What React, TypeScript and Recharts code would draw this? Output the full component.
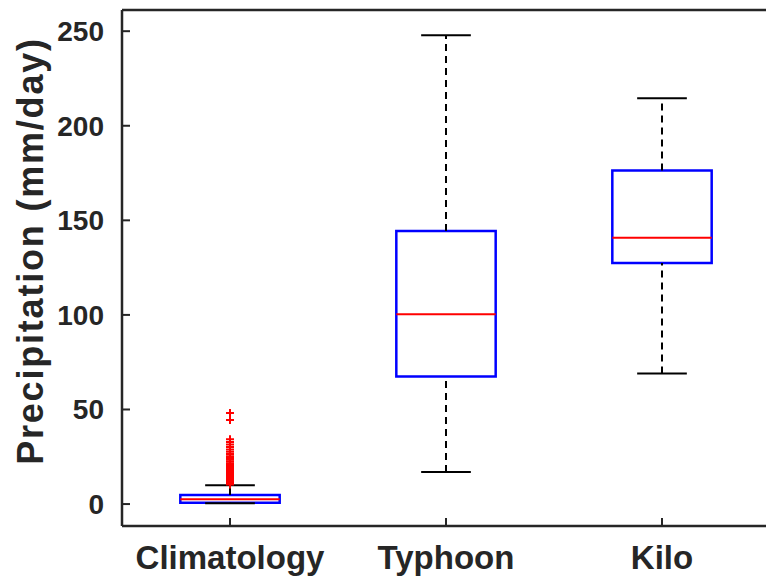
import React from "react";
import {
  ComposedChart,
  XAxis,
  YAxis,
  ReferenceArea,
  ReferenceLine,
  Scatter,
} from "recharts";

const categories = ["Climatology", "Typhoon", "Kilo"];
const lowerWhisker = [0.4, 17, 69];
const q1 = [0.7, 67.5, 127.5];
const median = [2.6, 100.3, 140.8];
const q3 = [4.8, 144.3, 176.3];
const upperWhisker = [10, 247.8, 214.5];
const climOutliers = [
  10.4, 10.8, 11.1, 11.5, 11.9, 12.2, 12.6, 13.0, 13.4, 13.9, 14.3, 14.8, 15.2,
  15.7, 16.3, 16.8, 17.4, 18.0, 18.7, 19.3, 20.1, 20.8, 21.6, 22.5, 23.4, 24.3,
  25.3, 26.4, 27.6, 28.9, 30.2, 31.5, 32.8, 34.2, 44.4, 48.1,
];
const yTicks = [0, 50, 100, 150, 200, 250];

const font = "'Liberation Sans', Arial, Helvetica, sans-serif";
const ink = "#262626";
const boxHalf = 0.23;
const capHalf = 0.115;

const outlierData = climOutliers.map((v) => ({ x: 1, y: v }));

const PlusShape = (props: any) => {
  const { cx, cy } = props;
  return (
    <path
      d={`M${cx - 4},${cy}H${cx + 4}M${cx},${cy - 4}V${cy + 4}`}
      stroke="#ff0000"
      strokeWidth={2}
      fill="none"
    />
  );
};

const YLabel = (props: any) => {
  const { viewBox } = props;
  const x = viewBox.x + 43;
  const y = viewBox.y + viewBox.height / 2 - 17;
  return (
    <text
      x={x}
      y={y}
      transform={`rotate(-90, ${x}, ${y})`}
      textAnchor="middle"
      fontFamily={font}
      fontWeight="bold"
      fontSize={36}
      letterSpacing={1.8}
      fill={ink}
    >
      Precipitation (mm/day)
    </text>
  );
};

export default function App() {
  return (
    <div
      style={{
        position: "absolute",
        left: 0,
        top: 0,
        width: 766,
        height: 576,
        overflow: "hidden",
        background: "#fff",
      }}
    >
      <ComposedChart
        width={790}
        height={576}
        margin={{ top: 0, right: 20, bottom: 0, left: 0 }}
      >
        <XAxis
          xAxisId="top"
          orientation="top"
          type="number"
          domain={[0.5, 3.5]}
          ticks={[1, 2, 3]}
          allowDataOverflow
          height={10}
          tickSize={-8}
          tickFormatter={() => ""}
          axisLine={{ stroke: ink, strokeWidth: 2.5 }}
          tickLine={{ stroke: ink, strokeWidth: 2 }}
        />
        <XAxis
          dataKey="x"
          type="number"
          domain={[0.5, 3.5]}
          ticks={[1, 2, 3]}
          interval={0}
          allowDataOverflow
          height={50}
          tickSize={-8}
          tickMargin={28}
          tickFormatter={(v: number) => categories[v - 1]}
          tick={{ fontFamily: font, fontWeight: "bold", fontSize: 33, fill: ink }}
          axisLine={{ stroke: ink, strokeWidth: 2.5 }}
          tickLine={{ stroke: ink, strokeWidth: 2 }}
        />
        <YAxis
          dataKey="y"
          type="number"
          domain={[-11.6, 261.2]}
          ticks={yTicks}
          interval={0}
          allowDataOverflow
          width={122}
          tickSize={-8}
          tickMargin={26}
          tick={{ fontFamily: font, fontWeight: "bold", fontSize: 28, fill: ink }}
          axisLine={{ stroke: ink, strokeWidth: 2.5 }}
          tickLine={{ stroke: ink, strokeWidth: 2 }}
          label={{ content: <YLabel /> }}
        />
        {categories.map((c, i) => {
          const x = i + 1;
          return (
            <React.Fragment key={c}>
              <ReferenceLine
                segment={[{ x, y: q3[i] }, { x, y: upperWhisker[i] }]}
                stroke="#000"
                strokeWidth={2}
                strokeDasharray="7 5"
              />
              <ReferenceLine
                segment={[{ x, y: lowerWhisker[i] }, { x, y: q1[i] }]}
                stroke="#000"
                strokeWidth={2}
                strokeDasharray="7 5"
              />
              <ReferenceLine
                segment={[
                  { x: x - capHalf, y: upperWhisker[i] },
                  { x: x + capHalf, y: upperWhisker[i] },
                ]}
                stroke="#000"
                strokeWidth={2}
              />
              <ReferenceLine
                segment={[
                  { x: x - capHalf, y: lowerWhisker[i] },
                  { x: x + capHalf, y: lowerWhisker[i] },
                ]}
                stroke="#000"
                strokeWidth={2}
              />
              <ReferenceArea
                x1={x - boxHalf}
                x2={x + boxHalf}
                y1={q1[i]}
                y2={q3[i]}
                stroke="#0000ff"
                strokeWidth={2.5}
                fill="#fff"
                fillOpacity={1}
              />
              <ReferenceLine
                segment={[
                  { x: x - boxHalf, y: median[i] },
                  { x: x + boxHalf, y: median[i] },
                ]}
                stroke="#ff0000"
                strokeWidth={2}
              />
            </React.Fragment>
          );
        })}
        <Scatter
          data={outlierData}
          dataKey="y"
          shape={<PlusShape />}
          isAnimationActive={false}
        />
      </ComposedChart>
    </div>
  );
}
